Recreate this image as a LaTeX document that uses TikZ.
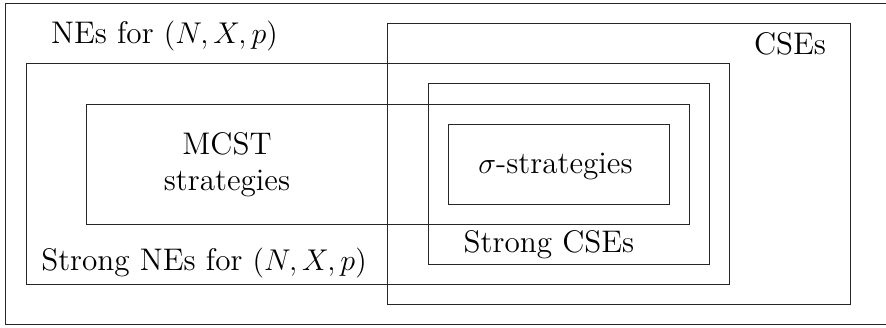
\documentclass[tikz,border=0pt]{standalone}
\usepackage{tikz}
\usetikzlibrary{positioning}
\tikzstyle{setbox} = [
    draw=black!85,
    line width=0.4pt,
]
\tikzstyle{label} = [
    anchor=base,
    inner sep=0pt,
    font=\fontsize{12.5pt}{14.4pt}\selectfont,
    align=center,
]

\begin{document}
\begin{tikzpicture}[x=0.4pt, y=-0.4pt]
    \useasboundingbox (0,0) rectangle (886,327);

    % outer frame (open on the right)
    \draw [setbox] (886,3) -- (5,3) -- (5,324) -- (886,324);

    % sets
    \draw [setbox] (26,63) rectangle (729,284);
    \draw [setbox] (387,23) rectangle (850,304);
    \draw [setbox] (428,83) rectangle (709,264);
    \draw [setbox] (86,104) rectangle (689,224);
    \draw [setbox] (448,124) rectangle (669,204);

    % labels
    \node (nes) at (164.5,43) [label] {NEs for $(N,X,p)$};
    \node (cses) at (790,54) [label] {CSEs};
    \node (mcst) at (227,190) [label] {MCST\\strategies};
    \node (sigma) at (555.5,173) [label] {$\sigma$-strategies};
    \node (strongcses) at (549,252) [label] {Strong CSEs};
    \node (strongnes) at (204,270) [label] {Strong NEs for $(N,X,p)$};
\end{tikzpicture}
\end{document}
